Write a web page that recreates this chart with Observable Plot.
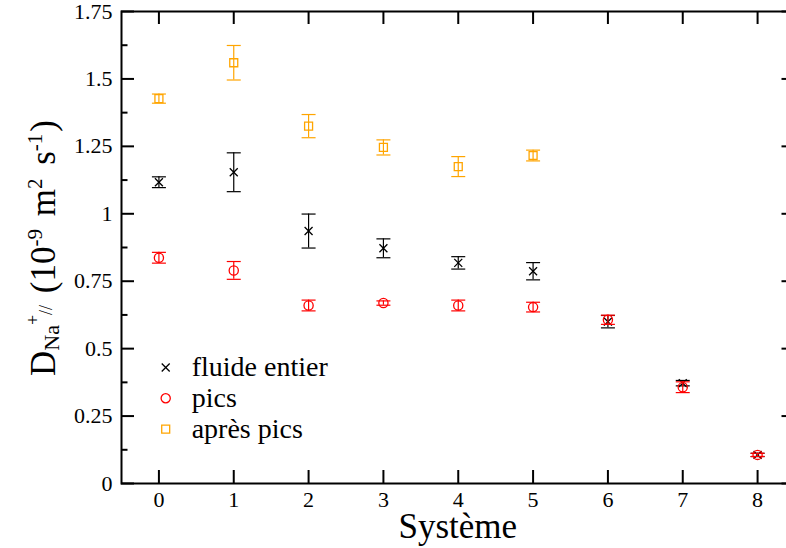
<!DOCTYPE html>
<html>
<head>
<meta charset="utf-8">
<script src="https://cdn.jsdelivr.net/npm/d3@7"></script>
<script src="https://cdn.jsdelivr.net/npm/@observablehq/plot@0.6"></script>
<style>
  html, body { margin: 0; padding: 0; background: #fff; }
  #wrap { width: 786px; height: 548px; overflow: hidden; position: relative; }
  #wrap svg { max-width: none !important; width: 795px; height: 548px; }
  #wrap svg text, #wrap svg tspan { font-family: 'Liberation Serif', 'Times New Roman', serif !important; }
  #wrap svg g[aria-label="y-axis tick label"] text,
  #wrap svg g[aria-label="x-axis tick label"] text { font-size: 22px !important; fill: #000 !important; }
</style>
</head>
<body>
<div id="wrap"></div>
<script>
// ---- data ----
const systems = [0, 1, 2, 3, 4, 5, 6, 7, 8];
const fluideEntier = [1.117, 1.154, 0.936, 0.872, 0.818, 0.787, 0.600, 0.372, 0.106];
const fluideEntierErr = [0.02, 0.072, 0.063, 0.035, 0.023, 0.032, 0.023, 0.01, 0.006];
const pics = [0.837, 0.790, 0.660, 0.669, 0.660, 0.654, 0.607, 0.357, 0.106];
const picsErr = [0.02, 0.033, 0.02, 0.008, 0.02, 0.018, 0.017, 0.02, 0.006];
const apresPics = [1.427, 1.560, 1.325, 1.246, 1.175, 1.216];
const apresPicsErr = [0.017, 0.064, 0.043, 0.028, 0.037, 0.02];
const seriesNames = ["fluide entier", "pics", "après pics"];
const seriesColors = ["#000000", "#ff0000", "#ffa500"];
const yMajor = [0, 0.25, 0.5, 0.75, 1, 1.25, 1.5, 1.75];
const yMinor = [0.125, 0.375, 0.625, 0.875, 1.125, 1.375, 1.625];
const xTicks = [0, 1, 2, 3, 4, 5, 6, 7, 8];
const xLabel = "Système";

// ---- tables ----
const rows = (vals, errs, s) => vals.map((v, i) => ({x: systems[i], y: v, lo: v - errs[i], hi: v + errs[i], s}));
const dFluide = rows(fluideEntier, fluideEntierErr, seriesNames[0]);
const dPics = rows(pics, picsErr, seriesNames[1]);
const dApres = rows(apresPics, apresPicsErr, seriesNames[2]);

const W = 795, H = 548, mL = 121, mR = 0.5, mT = 11, mB = 65;
const pw = W - mL - mR, ph = H - mT - mB;
const cap = { draw(ctx) { ctx.moveTo(-7, 0); ctx.lineTo(7, 0); } };

function seriesMarks(data, color, symbol, r) {
  return [
    Plot.ruleX(data, {x: "x", y1: "lo", y2: "hi", stroke: color, strokeWidth: 1.2}),
    Plot.dot(data, {x: "x", y: "lo", symbol: cap, r: 1, stroke: color, fill: "none", strokeWidth: 1.2}),
    Plot.dot(data, {x: "x", y: "hi", symbol: cap, r: 1, stroke: color, fill: "none", strokeWidth: 1.2}),
    Plot.dot(data, {x: "x", y: "y", symbol, r, stroke: color, fill: "none", strokeWidth: 1.3})
  ];
}

const svg = Plot.plot({
  width: W, height: H,
  marginLeft: mL, marginRight: mR, marginTop: mT, marginBottom: mB,
  style: {fontSize: "22px", background: "#fff", color: "#000"},
  x: {domain: [-0.5, 8.5], label: null},
  y: {domain: [0, 1.75], label: null},
  marks: [
    ...seriesMarks(dApres, seriesColors[2], "square", 4.5),
    ...seriesMarks(dFluide, seriesColors[0], "times", 3.7),
    ...seriesMarks(dPics, seriesColors[1], "circle", 4.6),
    // inward ticks on all four sides
    Plot.ruleY(yMajor, {y: d => d, insetRight: pw - 13, stroke: "#000", strokeWidth: 2}),
    Plot.ruleY(yMinor, {y: d => d, insetRight: pw - 6.5, stroke: "#000", strokeWidth: 2}),
    Plot.ruleY(yMajor, {y: d => d, insetLeft: pw - 13, stroke: "#000", strokeWidth: 2}),
    Plot.ruleY(yMinor, {y: d => d, insetLeft: pw - 6.5, stroke: "#000", strokeWidth: 2}),
    Plot.ruleX(xTicks, {x: d => d, insetTop: ph - 13, stroke: "#000", strokeWidth: 2}),
    Plot.ruleX(xTicks, {x: d => d, insetBottom: ph - 13, stroke: "#000", strokeWidth: 2}),
    Plot.frame({stroke: "#000", strokeWidth: 2}),
    Plot.axisY({ticks: yMajor, tickSize: 0, tickPadding: 9, label: null, tickFormat: d3.format(""),
                fontSize: 22, fill: "#000"}),
    Plot.axisX({ticks: xTicks, tickSize: 0, tickPadding: 8, label: null, tickFormat: d => String(d),
                fontSize: 22, fill: "#000"})
  ]
});
document.getElementById("wrap").appendChild(svg);

// ---- axis titles & legend ----
const S = d3.select(svg);
S.append("text")
  .attr("x", mL + pw / 2).attr("y", 538)
  .attr("text-anchor", "middle").attr("font-size", 35).attr("fill", "#000")
  .text(xLabel);

const yl = S.append("text")
  .attr("transform", "translate(55,248) rotate(-90)")
  .attr("text-anchor", "middle").attr("font-size", 35).attr("fill", "#000");
const parts = [
  ["D", 35, 0, 0], ["Na", 22, 4, 0], ["+", 18, -20, 0], ["//", 18, 13, 0], [" (10", 35, 3, 3],
  ["-9", 21, -13, 0], [" m", 35, 13, 4], ["2", 21, -13, 0], [" s", 35, 13, 5], ["-1", 21, -13, 0], [")", 35, 13, 2]
];
parts.forEach(([t, fs, dy, dx]) => yl.append("tspan").attr("font-size", fs).attr("dy", dy).attr("dx", dx).text(t));

const legendSymbols = ["times", "circle", "square"];
const legendR = [3.7, 4.6, 4.5];
const symMap = {times: d3.symbolTimes, circle: d3.symbolCircle, square: d3.symbolSquare};
seriesNames.forEach((name, i) => {
  const cy = 367.5 + i * 30.8;
  S.append("path")
    .attr("transform", `translate(165.7,${cy})`)
    .attr("d", d3.symbol(symMap[legendSymbols[i]], Math.PI * legendR[i] ** 2)())
    .attr("fill", "none").attr("stroke", seriesColors[i]).attr("stroke-width", 1.3);
  S.append("text")
    .attr("x", 191.7).attr("y", cy + 8.5)
    .attr("text-anchor", "start")
    .attr("font-size", 28).attr("fill", "#000")
    .text(name);
});
</script>
</body>
</html>
